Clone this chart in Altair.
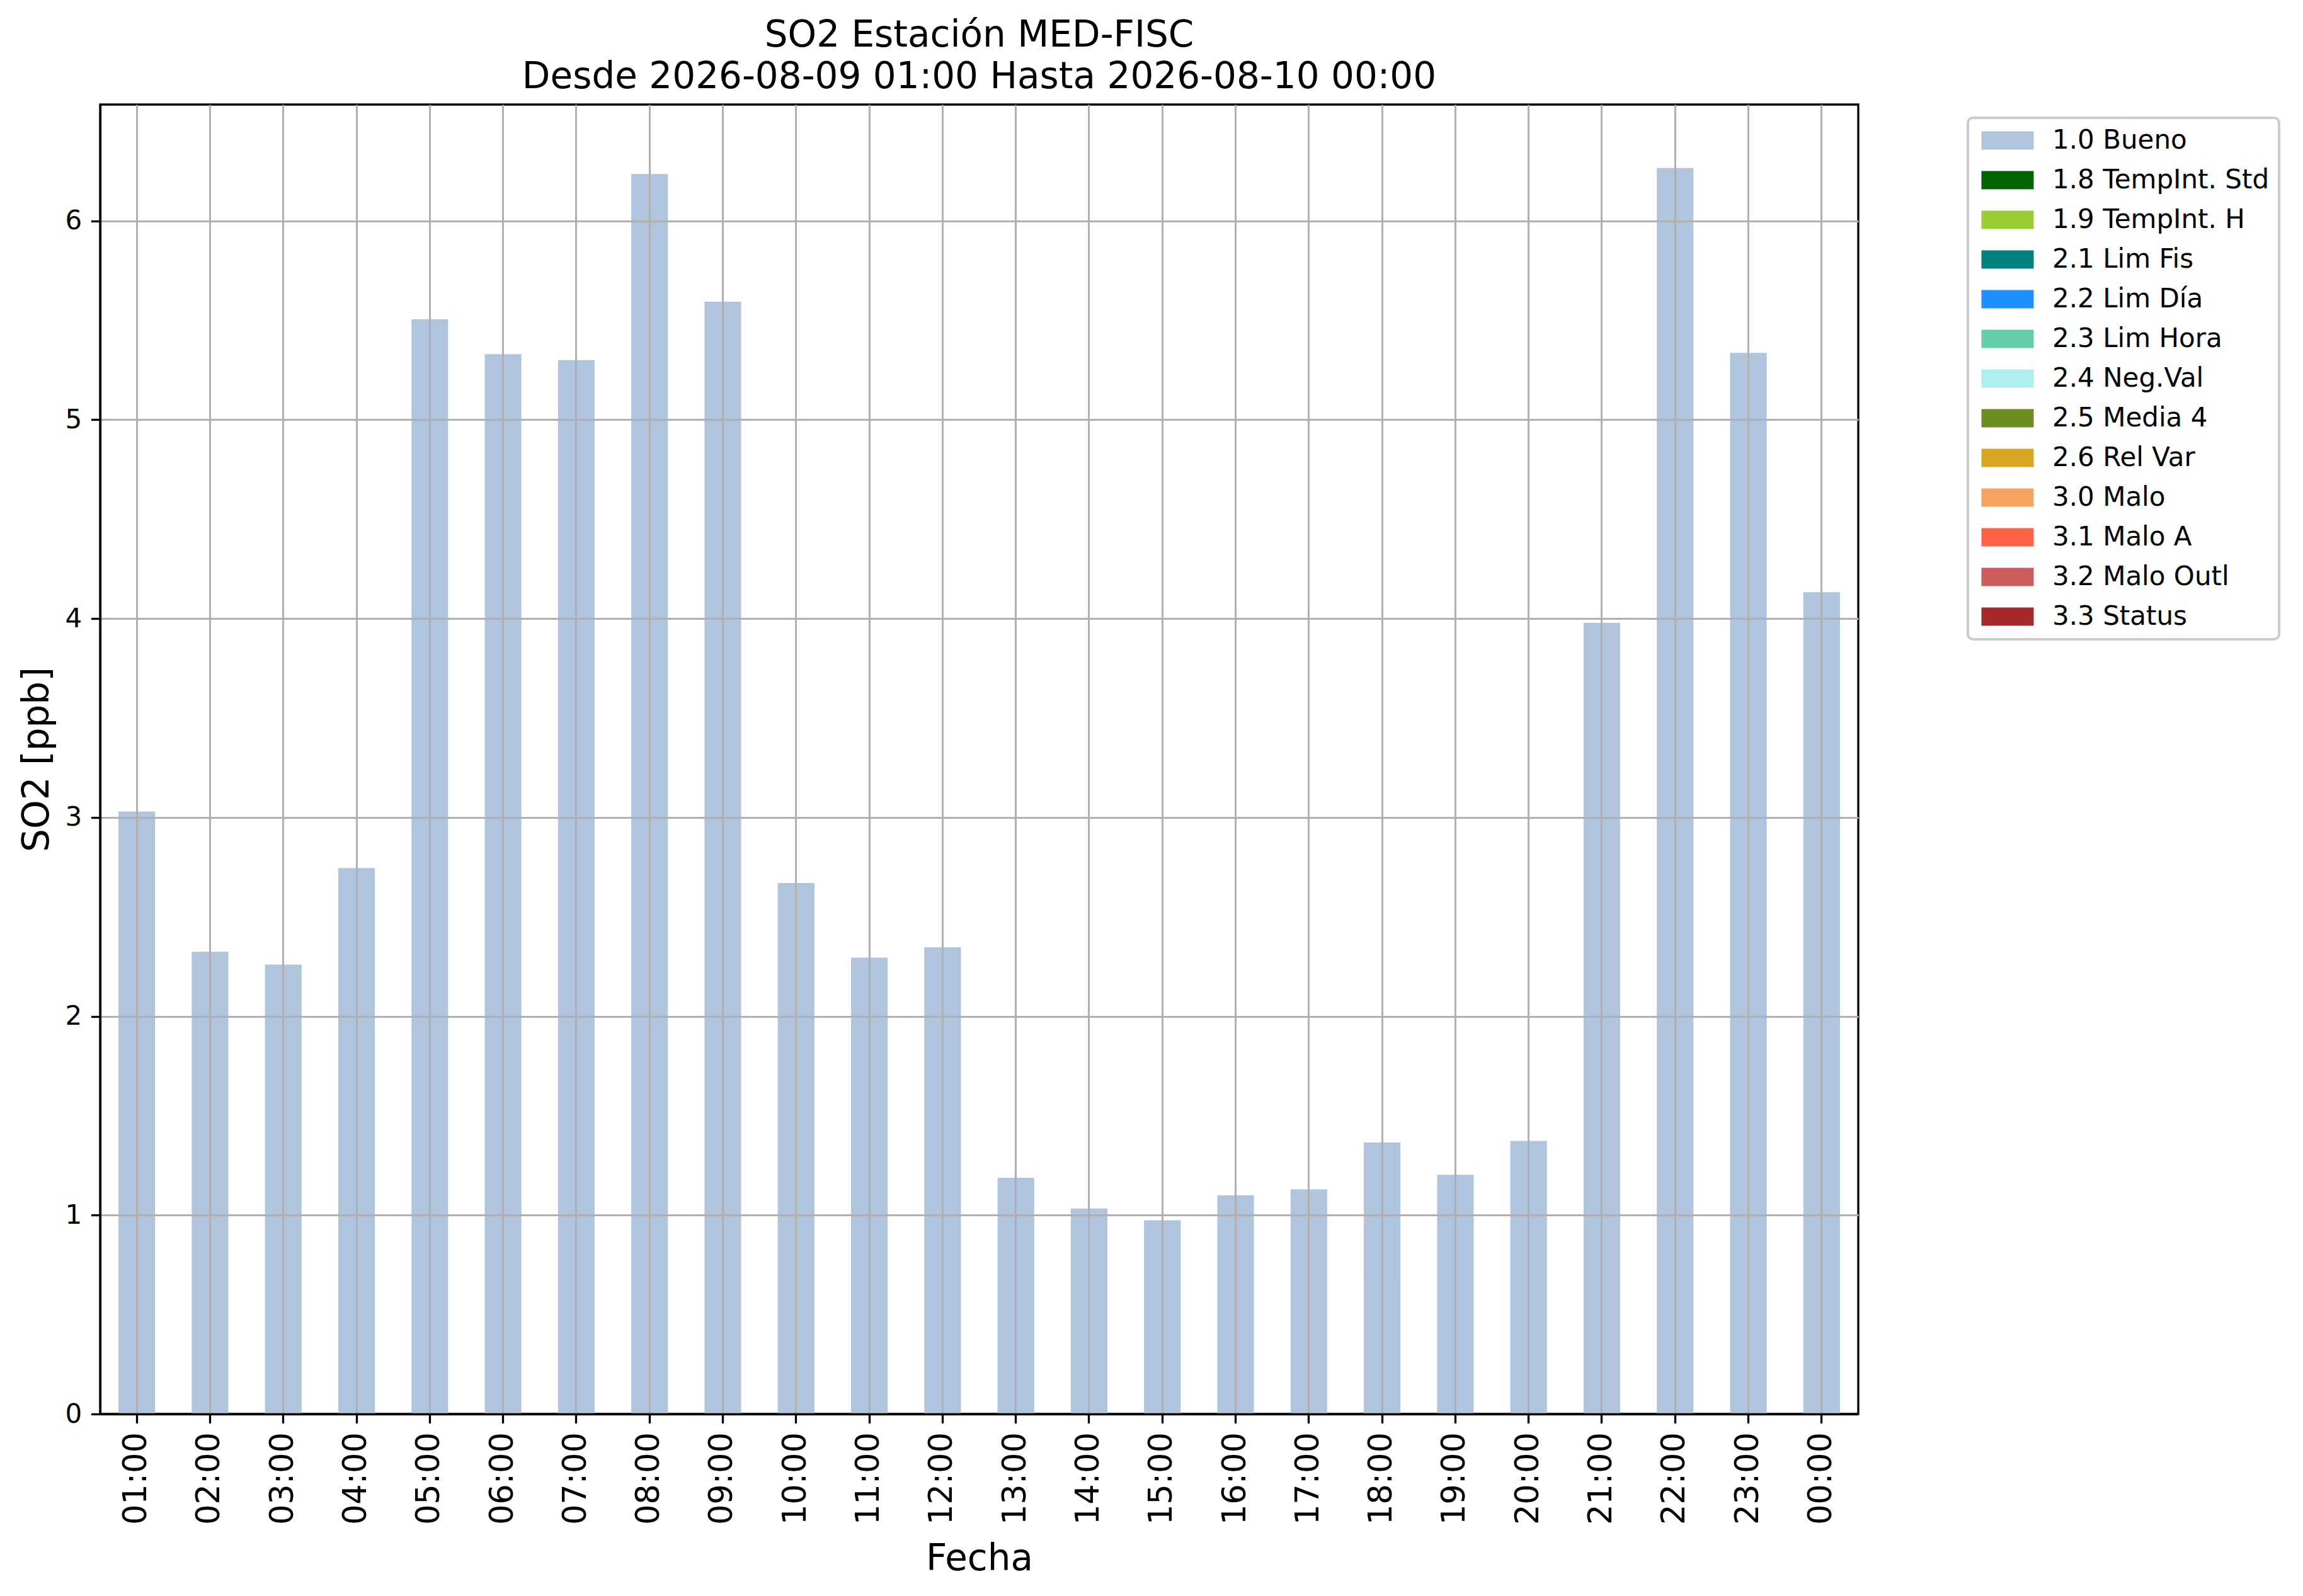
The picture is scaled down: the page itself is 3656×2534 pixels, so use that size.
import altair as alt
import pandas as pd

# ---- data ----
hours = ["01:00", "02:00", "03:00", "04:00", "05:00", "06:00", "07:00", "08:00",
         "09:00", "10:00", "11:00", "12:00", "13:00", "14:00", "15:00", "16:00",
         "17:00", "18:00", "19:00", "20:00", "21:00", "22:00", "23:00", "00:00"]
so2 = [3.03, 2.325, 2.26, 2.745, 5.505, 5.33, 5.30, 6.236, 5.594, 2.67, 2.295, 2.347,
       1.188, 1.033, 0.974, 1.10, 1.13, 1.365, 1.203, 1.373, 3.978, 6.266, 5.336, 4.133]
flags = ["1.0 Bueno"] * 24

flag_labels = ["1.0 Bueno", "1.8 TempInt. Std", "1.9 TempInt. H", "2.1 Lim Fis",
               "2.2 Lim Día", "2.3 Lim Hora", "2.4 Neg.Val", "2.5 Media 4",
               "2.6 Rel Var", "3.0 Malo", "3.1 Malo A", "3.2 Malo Outl", "3.3 Status"]
flag_colors = ["#b0c4de", "#006400", "#9acd32", "#008080", "#1e90ff", "#66cdaa",
               "#afeeee", "#6b8e23", "#daa520", "#f4a460", "#ff6347", "#cd5c5c", "#a52a2a"]

title_lines = ["SO2 Estación MED-FISC", "Desde 2026-08-09 01:00 Hasta 2026-08-10 00:00"]
y_ticks = [0, 1, 2, 3, 4, 5, 6]

df = pd.DataFrame({"Fecha": hours, "SO2": so2, "Flag": flags})

W, H = 2791, 2079
FONT = "DejaVu Sans"

chart = alt.Chart(df).mark_bar().encode(
    x=alt.X("Fecha:N", sort=hours,
            scale=alt.Scale(paddingInner=0.5, paddingOuter=0.25),
            axis=alt.Axis(title="Fecha", labelAngle=270, labelFontSize=51, labelFont=FONT,
                          labelColor="black", labelPadding=14,
                          tickSize=14.6, tickWidth=3.3, tickColor="black",
                          domainColor="black", domainWidth=3.3,
                          grid=True, gridColor="#b0b0b0", gridWidth=3,
                          titleFont=FONT, titleFontSize=58, titleFontWeight="normal",
                          titleColor="black", titleBaseline="alphabetic", titleY=247,
                          zindex=1)),
    y=alt.Y("SO2:Q",
            scale=alt.Scale(domain=[0, 6.585], nice=False, zero=True),
            axis=alt.Axis(title="SO2 [ppb]", values=y_ticks, format="d",
                          labelFontSize=42, labelFont=FONT, labelColor="black",
                          labelPadding=14.6,
                          tickSize=14.6, tickWidth=3.3, tickColor="black",
                          domainColor="black", domainWidth=3.3,
                          grid=True, gridColor="#b0b0b0", gridWidth=3,
                          titleFont=FONT, titleFontSize=58, titleFontWeight="normal",
                          titleColor="black", titleAngle=270, titleBaseline="alphabetic",
                          titleAlign="center", titleX=-83, titleY=H / 2,
                          zindex=1)),
    color=alt.Color("Flag:N",
                    scale=alt.Scale(domain=flag_labels, range=flag_colors),
                    legend=alt.Legend(title=None, orient="none", legendX=2965, legendY=21,
                                      padding=15, fillColor="white", strokeColor="#cccccc",
                                      cornerRadius=8,
                                      symbolType="M-1,-1L4.724,-1L4.724,1L-1,1Z",
                                      symbolSize=841, symbolStrokeWidth=0, symbolOpacity=1,
                                      labelFont=FONT, labelFontSize=42, labelColor="black",
                                      labelOffset=77, labelLimit=1000, rowPadding=21)),
).properties(
    width=W, height=H,
    title=alt.Title(title_lines, font=FONT, fontSize=58, fontWeight="normal", color="black",
                    anchor="middle", baseline="bottom", offset=14, dy=58, lineHeight=66),
    autosize=alt.AutoSizeParams(type="none"),
    padding={"left": 151, "top": 158, "right": 690, "bottom": 270},
).configure_view(stroke="black", strokeWidth=3.3).configure_legend(strokeWidth=4)

chart.save("out.html", embed_options={"renderer": "svg", "actions": False})
